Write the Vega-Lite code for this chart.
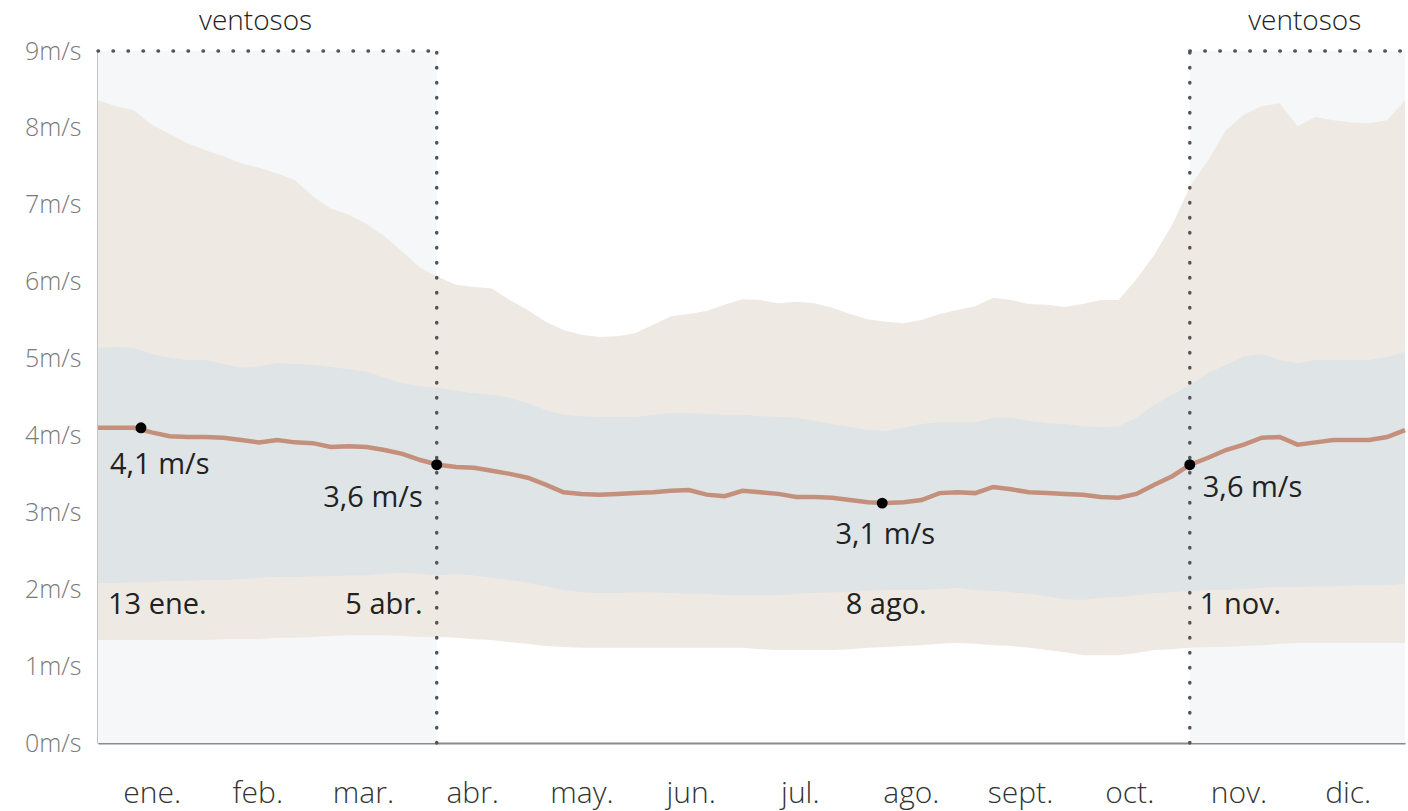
{
  "$schema": "https://vega.github.io/schema/vega-lite/v6.json",
  "width": 1307,
  "height": 692,
  "autosize": {"type": "none"},
  "padding": {"left": 98, "top": 51, "right": 3, "bottom": 68},
  "background": "#ffffff",
  "config": {
    "view": {"stroke": null},
    "font": "Open Sans",
    "text": {"font": "Open Sans"}
  },
  "datasets": {
    "wind": [
      {"d":1,"p10":1.34,"p25":2.08,"p50":4.10,"p75":5.14,"p90":8.36},
      {"d":6,"p10":1.34,"p25":2.08,"p50":4.10,"p75":5.15,"p90":8.28},
      {"d":11,"p10":1.34,"p25":2.09,"p50":4.10,"p75":5.14,"p90":8.23},
      {"d":16,"p10":1.34,"p25":2.09,"p50":4.04,"p75":5.06,"p90":8.04},
      {"d":21,"p10":1.34,"p25":2.11,"p50":3.99,"p75":5.01,"p90":7.92},
      {"d":26,"p10":1.34,"p25":2.11,"p50":3.98,"p75":4.98,"p90":7.80},
      {"d":31,"p10":1.34,"p25":2.12,"p50":3.98,"p75":4.98,"p90":7.71},
      {"d":36,"p10":1.35,"p25":2.12,"p50":3.97,"p75":4.93,"p90":7.63},
      {"d":41,"p10":1.35,"p25":2.13,"p50":3.94,"p75":4.88,"p90":7.54},
      {"d":46,"p10":1.35,"p25":2.15,"p50":3.91,"p75":4.90,"p90":7.48},
      {"d":51,"p10":1.37,"p25":2.16,"p50":3.94,"p75":4.94,"p90":7.41},
      {"d":56,"p10":1.37,"p25":2.16,"p50":3.91,"p75":4.93,"p90":7.32},
      {"d":61,"p10":1.38,"p25":2.17,"p50":3.90,"p75":4.92,"p90":7.11},
      {"d":66,"p10":1.39,"p25":2.17,"p50":3.85,"p75":4.89,"p90":6.95},
      {"d":71,"p10":1.40,"p25":2.18,"p50":3.86,"p75":4.86,"p90":6.87},
      {"d":76,"p10":1.40,"p25":2.18,"p50":3.85,"p75":4.83,"p90":6.75},
      {"d":81,"p10":1.40,"p25":2.20,"p50":3.81,"p75":4.75,"p90":6.59},
      {"d":86,"p10":1.39,"p25":2.21,"p50":3.76,"p75":4.68,"p90":6.39},
      {"d":91,"p10":1.38,"p25":2.20,"p50":3.68,"p75":4.64,"p90":6.18},
      {"d":96,"p10":1.38,"p25":2.18,"p50":3.62,"p75":4.62,"p90":6.06},
      {"d":101,"p10":1.37,"p25":2.20,"p50":3.59,"p75":4.58,"p90":5.96},
      {"d":106,"p10":1.35,"p25":2.18,"p50":3.58,"p75":4.55,"p90":5.93},
      {"d":111,"p10":1.34,"p25":2.15,"p50":3.54,"p75":4.53,"p90":5.91},
      {"d":116,"p10":1.31,"p25":2.12,"p50":3.50,"p75":4.49,"p90":5.76},
      {"d":121,"p10":1.29,"p25":2.08,"p50":3.45,"p75":4.42,"p90":5.63},
      {"d":126,"p10":1.26,"p25":2.04,"p50":3.36,"p75":4.33,"p90":5.48},
      {"d":131,"p10":1.25,"p25":1.99,"p50":3.26,"p75":4.27,"p90":5.37},
      {"d":136,"p10":1.24,"p25":1.96,"p50":3.24,"p75":4.25,"p90":5.31},
      {"d":141,"p10":1.24,"p25":1.95,"p50":3.23,"p75":4.24,"p90":5.28},
      {"d":146,"p10":1.24,"p25":1.95,"p50":3.24,"p75":4.24,"p90":5.29},
      {"d":151,"p10":1.24,"p25":1.96,"p50":3.25,"p75":4.24,"p90":5.33},
      {"d":156,"p10":1.24,"p25":1.96,"p50":3.26,"p75":4.27,"p90":5.44},
      {"d":161,"p10":1.24,"p25":1.95,"p50":3.28,"p75":4.29,"p90":5.55},
      {"d":166,"p10":1.24,"p25":1.94,"p50":3.29,"p75":4.29,"p90":5.58},
      {"d":171,"p10":1.24,"p25":1.94,"p50":3.23,"p75":4.28,"p90":5.62},
      {"d":176,"p10":1.24,"p25":1.92,"p50":3.21,"p75":4.27,"p90":5.70},
      {"d":181,"p10":1.24,"p25":1.92,"p50":3.28,"p75":4.27,"p90":5.77},
      {"d":186,"p10":1.22,"p25":1.92,"p50":3.26,"p75":4.25,"p90":5.76},
      {"d":191,"p10":1.21,"p25":1.92,"p50":3.24,"p75":4.24,"p90":5.72},
      {"d":196,"p10":1.21,"p25":1.94,"p50":3.20,"p75":4.23,"p90":5.74},
      {"d":201,"p10":1.21,"p25":1.95,"p50":3.20,"p75":4.19,"p90":5.72},
      {"d":206,"p10":1.21,"p25":1.96,"p50":3.19,"p75":4.15,"p90":5.66},
      {"d":211,"p10":1.22,"p25":1.96,"p50":3.16,"p75":4.11,"p90":5.58},
      {"d":216,"p10":1.24,"p25":1.98,"p50":3.13,"p75":4.07,"p90":5.51},
      {"d":221,"p10":1.25,"p25":1.99,"p50":3.12,"p75":4.06,"p90":5.48},
      {"d":226,"p10":1.26,"p25":1.99,"p50":3.13,"p75":4.10,"p90":5.46},
      {"d":231,"p10":1.27,"p25":1.99,"p50":3.16,"p75":4.15,"p90":5.50},
      {"d":236,"p10":1.29,"p25":2.00,"p50":3.25,"p75":4.17,"p90":5.58},
      {"d":241,"p10":1.30,"p25":2.02,"p50":3.26,"p75":4.17,"p90":5.63},
      {"d":246,"p10":1.29,"p25":1.99,"p50":3.25,"p75":4.17,"p90":5.68},
      {"d":251,"p10":1.27,"p25":1.98,"p50":3.33,"p75":4.23,"p90":5.79},
      {"d":256,"p10":1.26,"p25":1.96,"p50":3.30,"p75":4.23,"p90":5.76},
      {"d":261,"p10":1.24,"p25":1.94,"p50":3.26,"p75":4.19,"p90":5.71},
      {"d":266,"p10":1.21,"p25":1.91,"p50":3.25,"p75":4.16,"p90":5.70},
      {"d":271,"p10":1.18,"p25":1.87,"p50":3.24,"p75":4.15,"p90":5.67},
      {"d":276,"p10":1.14,"p25":1.86,"p50":3.23,"p75":4.12,"p90":5.71},
      {"d":281,"p10":1.14,"p25":1.89,"p50":3.20,"p75":4.11,"p90":5.76},
      {"d":286,"p10":1.14,"p25":1.90,"p50":3.19,"p75":4.12,"p90":5.76},
      {"d":291,"p10":1.17,"p25":1.92,"p50":3.24,"p75":4.23,"p90":6.03},
      {"d":296,"p10":1.21,"p25":1.95,"p50":3.36,"p75":4.40,"p90":6.35},
      {"d":301,"p10":1.22,"p25":1.96,"p50":3.47,"p75":4.53,"p90":6.74},
      {"d":306,"p10":1.24,"p25":1.98,"p50":3.62,"p75":4.66,"p90":7.24},
      {"d":311,"p10":1.25,"p25":1.99,"p50":3.71,"p75":4.81,"p90":7.58},
      {"d":316,"p10":1.25,"p25":1.99,"p50":3.81,"p75":4.92,"p90":7.97},
      {"d":321,"p10":1.26,"p25":2.00,"p50":3.88,"p75":5.03,"p90":8.17},
      {"d":326,"p10":1.27,"p25":2.02,"p50":3.97,"p75":5.06,"p90":8.28},
      {"d":331,"p10":1.29,"p25":2.03,"p50":3.98,"p75":4.98,"p90":8.32},
      {"d":336,"p10":1.30,"p25":2.03,"p50":3.88,"p75":4.94,"p90":8.02},
      {"d":341,"p10":1.30,"p25":2.04,"p50":3.91,"p75":4.98,"p90":8.14},
      {"d":346,"p10":1.30,"p25":2.04,"p50":3.94,"p75":4.98,"p90":8.10},
      {"d":351,"p10":1.30,"p25":2.05,"p50":3.94,"p75":4.98,"p90":8.07},
      {"d":356,"p10":1.30,"p25":2.05,"p50":3.94,"p75":4.98,"p90":8.06},
      {"d":361,"p10":1.30,"p25":2.05,"p50":3.98,"p75":5.02,"p90":8.10},
      {"d":366,"p10":1.30,"p25":2.07,"p50":4.07,"p75":5.09,"p90":8.36}
    ],
    "windy": [
      {"start": 1, "end": 95.6, "center": 45, "label": "ventosos"},
      {"start": 305.9, "end": 366, "center": 338, "label": "ventosos"}
    ],
    "marks": [
      {"id": "ene", "d": 13, "v": 4.1, "val": "4,1 m/s", "date": "13 ene."},
      {"id": "abr", "d": 95.6, "v": 3.62, "val": "3,6 m/s", "date": "5 abr."},
      {"id": "ago", "d": 220, "v": 3.12, "val": "3,1 m/s", "date": "8 ago."},
      {"id": "nov", "d": 305.9, "v": 3.62, "val": "3,6 m/s", "date": "1 nov."}
    ]
  },
  "layer": [
    {
      "data": {"name": "windy"},
      "mark": {"type": "rect", "color": "#f5f7f8"},
      "encoding": {
        "x": {"field": "start", "type": "quantitative", "scale": {"domain": [1, 366], "nice": false, "zero": false},
          "axis": {
            "values": [16, 45.5, 75, 105.5, 136, 166.5, 197, 228, 258.5, 289, 319.5, 350],
            "labelExpr": "['ene.','feb.','mar.','abr.','may.','jun.','jul.','ago.','sept.','oct.','nov.','dic.'][indexof([16,45.5,75,105.5,136,166.5,197,228,258.5,289,319.5,350], datum.value)]",
            "title": null, "ticks": false, "grid": false,
            "domainColor": "#8a8a8a", "domainWidth": 2,
            "labelFontSize": 30, "labelColor": "#333333", "labelPadding": 35, "labelFontWeight": 300
          }},
        "x2": {"field": "end"},
        "y": {"datum": 0, "type": "quantitative", "scale": {"domain": [0, 9], "nice": false, "zero": true},
          "axis": {
            "values": [0,1,2,3,4,5,6,7,8,9],
            "labelExpr": "datum.value + 'm/s'",
            "title": null, "ticks": false, "grid": false,
            "domainColor": "#8a8a8a", "domainWidth": 2,
            "labelFontSize": 25, "labelColor": "#7a7a7a", "labelPadding": 17, "labelFontWeight": 300
          }},
        "y2": {"datum": 9}
      }
    },
    {
      "data": {"name": "wind"},
      "mark": {"type": "area", "color": "#eeeae3", "opacity": 1},
      "encoding": {
        "x": {"field": "d", "type": "quantitative"},
        "y": {"field": "p10", "type": "quantitative"},
        "y2": {"field": "p90"}
      }
    },
    {
      "data": {"name": "wind"},
      "mark": {"type": "area", "color": "#dfe4e6", "opacity": 1},
      "encoding": {
        "x": {"field": "d", "type": "quantitative"},
        "y": {"field": "p25", "type": "quantitative"},
        "y2": {"field": "p75"}
      }
    },
    {
      "data": {"name": "wind"},
      "mark": {"type": "line", "color": "#c4907b", "strokeWidth": 4.5},
      "encoding": {
        "x": {"field": "d", "type": "quantitative"},
        "y": {"field": "p50", "type": "quantitative"}
      }
    },
    {
      "data": {"name": "windy"},
      "mark": {"type": "rule", "color": "#555555", "strokeWidth": 3.5, "strokeDash": [0.5, 14.5], "strokeCap": "round"},
      "encoding": {
        "x": {"field": "start", "type": "quantitative"},
        "x2": {"field": "end"},
        "y": {"datum": 9, "type": "quantitative"}
      }
    },
    {
      "data": {"name": "marks"},
      "transform": [{"filter": "datum.id === 'abr' || datum.id === 'nov'"}],
      "mark": {"type": "rule", "color": "#555555", "strokeWidth": 3.5, "strokeDash": [0.5, 14.5], "strokeCap": "round"},
      "encoding": {
        "x": {"field": "d", "type": "quantitative"},
        "y": {"datum": 0, "type": "quantitative"},
        "y2": {"datum": 9}
      }
    },
    {
      "data": {"name": "marks"},
      "mark": {"type": "circle", "color": "#000000", "opacity": 1, "size": 120},
      "encoding": {
        "x": {"field": "d", "type": "quantitative"},
        "y": {"field": "v", "type": "quantitative"}
      }
    },
    {
      "data": {"name": "windy"},
      "mark": {"type": "text", "fontSize": 28, "fontWeight": 300, "color": "#222222", "align": "center", "baseline": "middle", "dy": -29},
      "encoding": {
        "x": {"field": "center", "type": "quantitative"},
        "y": {"datum": 9, "type": "quantitative"},
        "text": {"field": "label"}
      }
    },
    {
      "data": {"name": "marks"},
      "transform": [{"filter": "datum.id === 'ene'"}],
      "layer": [
        {"mark": {"type": "text", "fontSize": 29, "color": "#222222", "align": "left", "baseline": "middle", "dx": -31, "dy": 37},
         "encoding": {"x": {"field": "d", "type": "quantitative"}, "y": {"field": "v", "type": "quantitative"}, "text": {"field": "val"}}},
        {"mark": {"type": "text", "fontSize": 29, "color": "#222222", "align": "left", "baseline": "middle", "dx": -33},
         "encoding": {"x": {"field": "d", "type": "quantitative"}, "y": {"datum": 1.8, "type": "quantitative"}, "text": {"field": "date"}}}
      ]
    },
    {
      "data": {"name": "marks"},
      "transform": [{"filter": "datum.id === 'abr'"}],
      "layer": [
        {"mark": {"type": "text", "fontSize": 29, "color": "#222222", "align": "right", "baseline": "middle", "dx": -14, "dy": 33},
         "encoding": {"x": {"field": "d", "type": "quantitative"}, "y": {"field": "v", "type": "quantitative"}, "text": {"field": "val"}}},
        {"mark": {"type": "text", "fontSize": 29, "color": "#222222", "align": "right", "baseline": "middle", "dx": -14},
         "encoding": {"x": {"field": "d", "type": "quantitative"}, "y": {"datum": 1.8, "type": "quantitative"}, "text": {"field": "date"}}}
      ]
    },
    {
      "data": {"name": "marks"},
      "transform": [{"filter": "datum.id === 'ago'"}],
      "layer": [
        {"mark": {"type": "text", "fontSize": 29, "color": "#222222", "align": "center", "baseline": "middle", "dx": 3, "dy": 32},
         "encoding": {"x": {"field": "d", "type": "quantitative"}, "y": {"field": "v", "type": "quantitative"}, "text": {"field": "val"}}},
        {"mark": {"type": "text", "fontSize": 29, "color": "#222222", "align": "center", "baseline": "middle", "dx": 4},
         "encoding": {"x": {"field": "d", "type": "quantitative"}, "y": {"datum": 1.8, "type": "quantitative"}, "text": {"field": "date"}}}
      ]
    },
    {
      "data": {"name": "marks"},
      "transform": [{"filter": "datum.id === 'nov'"}],
      "layer": [
        {"mark": {"type": "text", "fontSize": 29, "color": "#222222", "align": "left", "baseline": "middle", "dx": 13, "dy": 23},
         "encoding": {"x": {"field": "d", "type": "quantitative"}, "y": {"field": "v", "type": "quantitative"}, "text": {"field": "val"}}},
        {"mark": {"type": "text", "fontSize": 29, "color": "#222222", "align": "left", "baseline": "middle", "dx": 10},
         "encoding": {"x": {"field": "d", "type": "quantitative"}, "y": {"datum": 1.8, "type": "quantitative"}, "text": {"field": "date"}}}
      ]
    }
  ]
}
